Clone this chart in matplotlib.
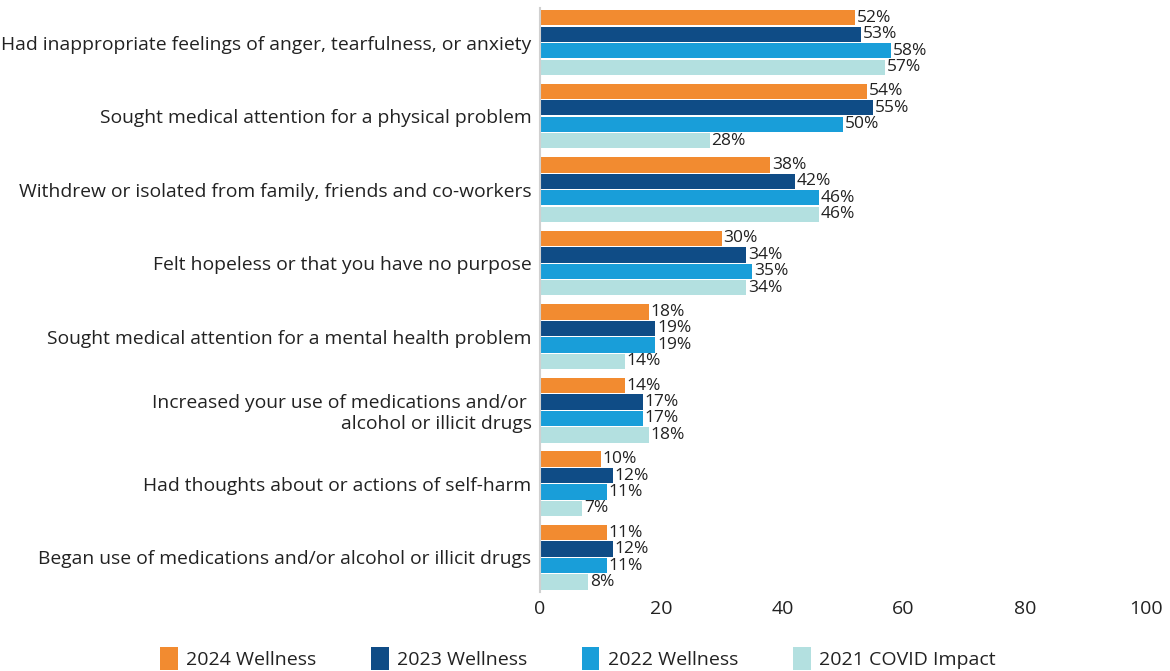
import numpy as np
import matplotlib.pyplot as plt

categories = [
    "Had inappropriate feelings of anger, tearfulness, or anxiety",
    "Sought medical attention for a physical problem",
    "Withdrew or isolated from family, friends and co-workers",
    "Felt hopeless or that you have no purpose",
    "Sought medical attention for a mental health problem",
    "Increased your use of medications and/or \nalcohol or illicit drugs",
    "Had thoughts about or actions of self-harm",
    "Began use of medications and/or alcohol or illicit drugs",
]
series_names = ["2024 Wellness", "2023 Wellness", "2022 Wellness", "2021 COVID Impact"]
wellness_2024 = [52, 54, 38, 30, 18, 14, 10, 11]
wellness_2023 = [53, 55, 42, 34, 19, 17, 12, 12]
wellness_2022 = [58, 50, 46, 35, 19, 17, 11, 11]
covid_2021 = [57, 28, 46, 34, 14, 18, 7, 8]
colors = ["#F28B30", "#0F4C86", "#199ED9", "#B3E0E0"]

plt.rcParams['font.family'] = ['Open Sans', 'DejaVu Sans']
text_color = "#222222"

fig = plt.figure(figsize=(11.7, 6.71), dpi=100)
ax = fig.add_axes([0.4615, 0.118, 0.518, 0.870])

y = np.arange(len(categories))
slot = 0.224
series = [wellness_2024, wellness_2023, wellness_2022, covid_2021]
for i, (vals, name, c) in enumerate(zip(series, series_names, colors)):
    pos = y + (i - 1.5) * slot
    bars = ax.barh(pos, vals, height=slot * 0.92, color=c, label=name)
    for b, v in zip(bars, vals):
        ax.text(v + 0.3, b.get_y() + b.get_height() / 2, f"{v}%",
                va='center', ha='left', fontsize=12.5, color=text_color)

ax.set_xlim(0, 100)
ax.set_ylim(7.47, -0.47)
ax.set_yticks(y)
ax.set_yticklabels(categories, fontsize=13.9, color=text_color, ha='right')
ax.set_xticks([0, 20, 40, 60, 80, 100])
ax.tick_params(axis='x', length=0, labelsize=14, labelcolor=text_color, pad=6)
ax.tick_params(axis='y', length=0, pad=6)
for s in ['top', 'right', 'bottom']:
    ax.spines[s].set_visible(False)
ax.spines['left'].set_color('#d0d0d0')
ax.spines['left'].set_linewidth(1.5)

handles, labels = ax.get_legend_handles_labels()
fig.legend(handles, labels, loc='lower center', bbox_to_anchor=(0.494, -0.025), ncol=4,
           frameon=False, fontsize=14, handlelength=0.9, handleheight=1.5,
           columnspacing=2.8, handletextpad=0.45, labelcolor=text_color)

fig.savefig("out.png", dpi=100)
